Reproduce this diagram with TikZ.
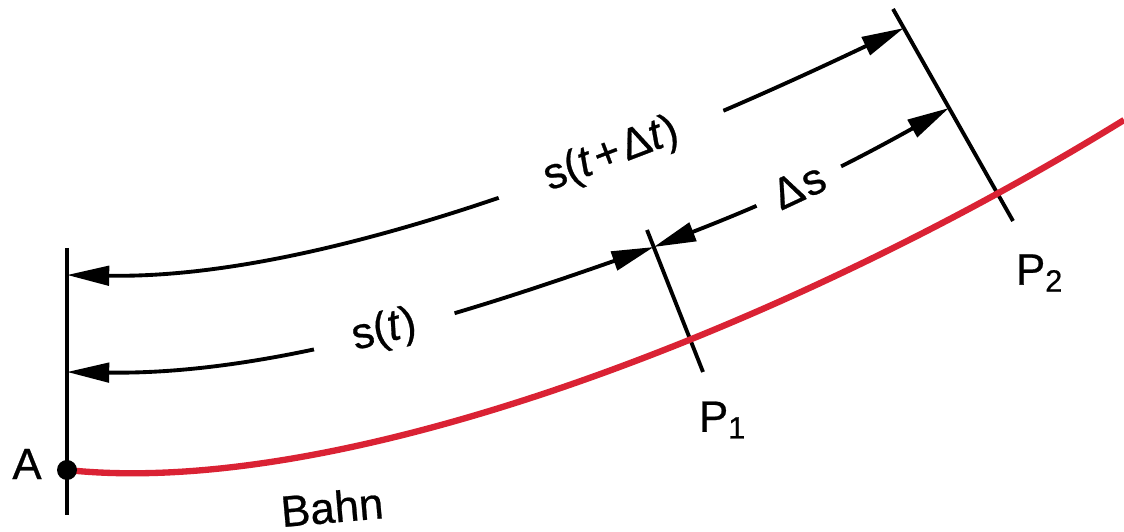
\documentclass[tikz,border=0pt]{standalone}
\usepackage{fontspec}
\setmainfont{Liberation Sans}[FakeBold=0.6]
\usepackage{tikz}
\usetikzlibrary{arrows.meta,calc}
\definecolor{bahnred}{RGB}{218,34,52}

\begin{document}
\begin{tikzpicture}[
  dimline/.style={line width=1.1pt,
    {Triangle[length=12pt,width=5.5pt]}-{Triangle[length=12pt,width=5.5pt]}},
  tickline/.style={line width=1.1pt},
  gaplabel/.style={fill=white, sloped, inner ysep=1pt},
  font=\fontsize{12.5}{15}\selectfont
]
  \useasboundingbox (0,0) rectangle (11.24,5.32);
  % start line and the two marks
  \coordinate (Atop) at (0.67,2.84);
  \coordinate (Abot) at (0.67,0.17);
  \coordinate (P1top) at (6.47,3.02);
  \coordinate (P1bot) at (7.03,1.60);
  \coordinate (P2top) at (8.93,5.23);
  \coordinate (P2bot) at (10.13,3.11);
  \draw[tickline] (Atop) -- (Abot);
  \draw[tickline] (P1top) -- (P1bot);
  \draw[tickline] (P2top) -- (P2bot);
  % Bahn
  \coordinate (A) at (0.67,0.62);
  \coordinate (bahnend) at (11.24,4.12);
  \draw[bahnred, line width=1.8pt] (A) .. controls (3.50,0.32) and (8.00,2.12) .. (bahnend);
  \fill (A) circle (0.1);
  \node (lblA) at (0.27,0.68) {A};
  \node[rotate=5] (lblbahn) at (3.32,0.25) {Bahn};
  \node (lblP1) at (7.23,1.12) {P\textsubscript{1}};
  \node (lblP2) at (10.40,2.59) {P\textsubscript{2}};
  % arc lengths
  \coordinate (sA1) at (0.67,2.57);
  \coordinate (sA2) at (0.67,1.60);
  \coordinate (sP1) at ($(P1top)!0.12!(P1bot)$);
  \coordinate (sP2a) at ($(P2top)!0.09!(P2bot)$);
  \coordinate (sP2b) at ($(P2top)!0.467!(P2bot)$);
  \draw[dimline] (sA1) .. controls (3.50,2.52) and (7.00,4.07) .. (sP2a)
    node[gaplabel, pos=0.61, inner xsep=0.5cm] (lblstdt) {s(\textit{t}\kern1pt+\kern1ptΔ\textit{t})};
  \draw[dimline] (sA2) .. controls (2.70,1.57) and (4.60,2.17) .. (sP1)
    node[gaplabel, pos=0.535, inner xsep=0.4cm] (lblst) {s(\textit{t})};
  \draw[dimline] (sP1) to[bend right=4]
    node[gaplabel, pos=0.48, inner xsep=0.2cm] (lblds) {Δ\kern0.5pt s} (sP2b);
\end{tikzpicture}
\end{document}
